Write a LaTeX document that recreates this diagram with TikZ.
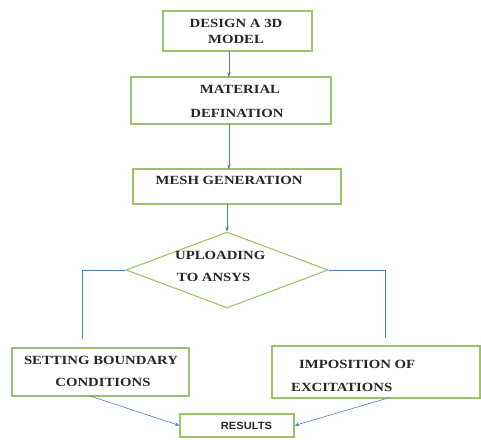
\documentclass[tikz,border=0pt]{standalone}
\usepackage{fontspec}
\setmainfont{Liberation Serif}
\setsansfont{Liberation Sans}
\newfontfamily\widefont[FakeStretch=1.18]{Liberation Serif}
\newfontfamily\widesans[FakeStretch=1.06]{Liberation Sans}
\usetikzlibrary{arrows.meta,shapes.geometric}
\definecolor{boxgreen}{RGB}{155,196,106}
\definecolor{arrblue}{RGB}{79,122,200}
\tikzset{
  box/.style={draw=boxgreen, line width=1.1pt, inner sep=0pt},
  lbl/.style={font=\widefont\bfseries\fontsize{12.5}{13}\selectfont, inner sep=0pt, text=black!85},
  conn/.style={draw=arrblue, line width=0.6pt},
  arr/.style={conn, -{Stealth[length=4.5pt,width=3.5pt]}}
}
\begin{document}
\begin{tikzpicture}[x=1pt,y=-1pt]
\useasboundingbox (0,0) rectangle (481,439);
% boxes
\node[box, minimum width=149pt, minimum height=40pt] (b1) at (237.5,31) {};
\node[box, minimum width=200pt, minimum height=47pt] (b2) at (231,100.5) {};
\node[box, minimum width=208pt, minimum height=35pt] (b3) at (237,186.5) {};
\node[box, diamond, aspect=2.66, minimum width=202pt, minimum height=76pt] (d) at (227,270) {};
\node[box, minimum width=177pt, minimum height=48pt] (b4) at (100.5,372) {};
\node[box, minimum width=208pt, minimum height=52pt] (b5) at (376,372) {};
\node[box, minimum width=114pt, minimum height=23pt] (b6) at (237,425.5) {};
% labels
\node[lbl] (t1a) at (236,23) {DESIGN A 3D};
\node[lbl] (t1b) at (236,39) {MODEL};
\node[lbl] (t2a) at (240,89) {MATERIAL};
\node[lbl] (t2b) at (237,113) {DEFINATION};
\node[lbl] (t3) at (229,180) {MESH GENERATION};
\node[lbl, anchor=west] (t4a) at (175,255) {UPLOADING};
\node[lbl, anchor=west] (t4b) at (177,277) {TO ANSYS};
\node[lbl] (t5a) at (101,360) {SETTING BOUNDARY};
\node[lbl] (t5b) at (103,382) {CONDITIONS};
\node[lbl, anchor=west] (t6a) at (299,364) {IMPOSITION OF};
\node[lbl, anchor=west] (t6b) at (291,387) {EXCITATIONS};
\node[lbl, font=\widesans\bfseries\fontsize{10.5}{12}\selectfont] (t7) at (246.5,426) {RESULTS};
% coordinates for connectors
\coordinate (c1) at (229,51);
\coordinate (c2) at (229,77);
\coordinate (c3) at (229,124);
\coordinate (c4) at (229,169);
\coordinate (c5) at (227,204);
\coordinate (lt) at (82,270);
\coordinate (lb) at (82,339);
\coordinate (rt) at (385,270);
\coordinate (rb) at (385,338);
\coordinate (s1) at (90,396);
\coordinate (s2) at (388,398);
% connectors
\draw[arr] (c1) -- (c2);
\draw[arr] (c3) -- (c4);
\draw[arr] (c5) -- (d.north);
\draw[conn] (d.west) -- (lt) -- (lb);
\draw[conn] (d.east) -- (rt) -- (rb);
\draw[arr] (s1) -- (b6.west);
\draw[arr] (s2) -- (b6.east);
\end{tikzpicture}
\end{document}
